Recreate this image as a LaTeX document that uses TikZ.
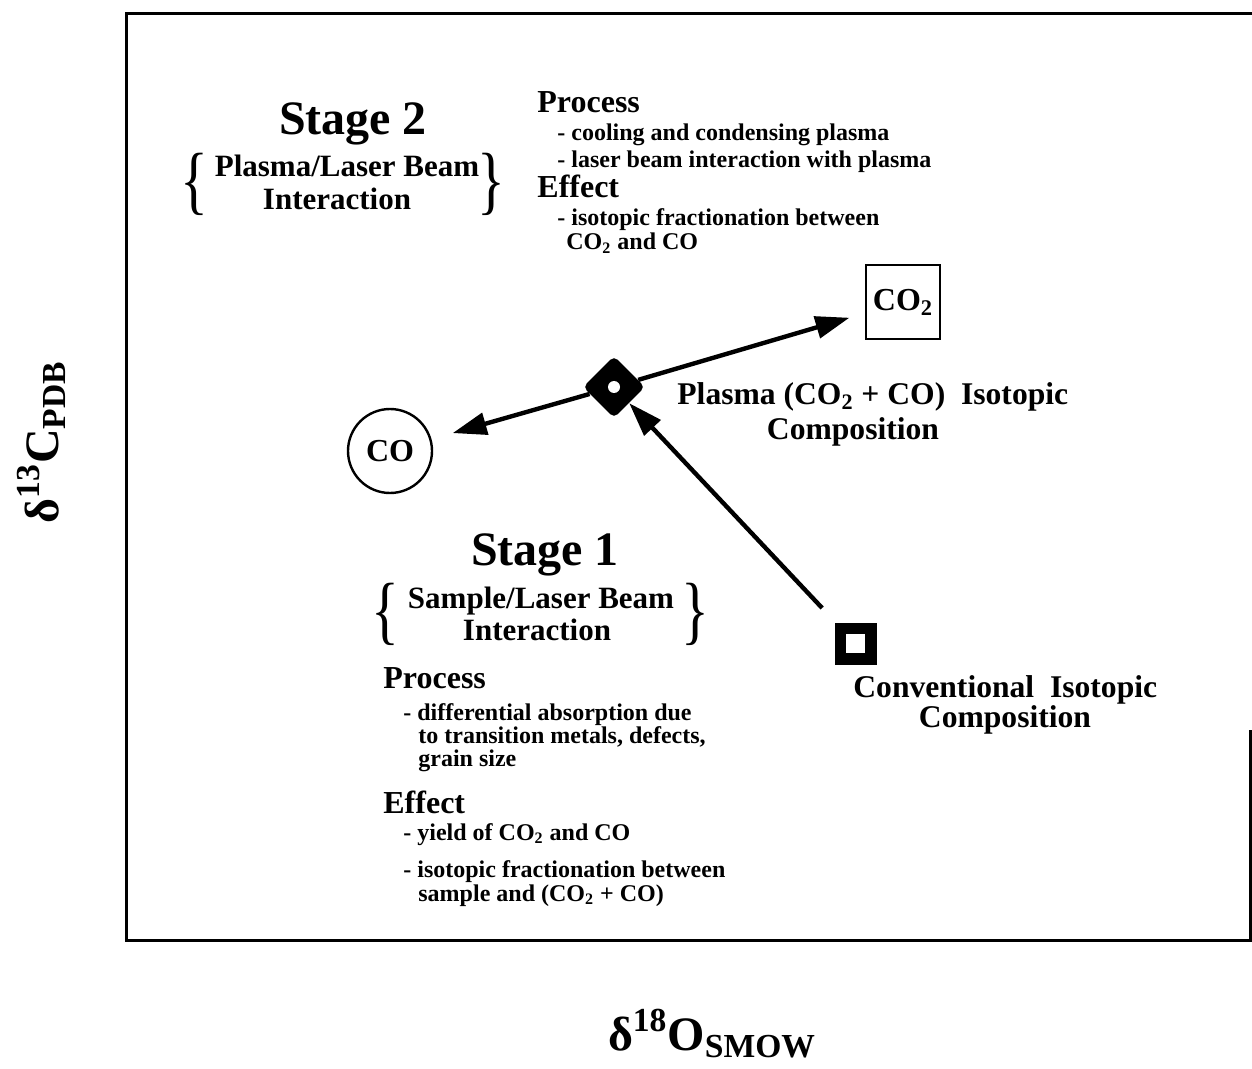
\documentclass[tikz,border=0pt]{standalone}
\usepackage{fontspec}
\setmainfont{Liberation Serif}
\usetikzlibrary{arrows.meta,shapes.geometric}

\tikzset{
	item/.style={anchor=base west,inner sep=0pt,font=\bfseries\fontsize{12}{12}\selectfont},
	head/.style={anchor=base west,inner sep=0pt,font=\bfseries\fontsize{16}{16}\selectfont},
	title/.style={anchor=base,inner sep=0pt,font=\bfseries\fontsize{24}{24}\selectfont},
	sub/.style={anchor=base,inner sep=0pt,font=\bfseries\fontsize{15.5}{15.5}\selectfont},
	brc/.style={inner sep=0pt,font=\fontsize{29}{29}\selectfont},
	lbl/.style={anchor=base,inner sep=0pt,font=\bfseries\fontsize{15.8}{15.8}\selectfont},
	axis/.style={anchor=base,inner sep=0pt,font=\bfseries\fontsize{24}{24}\selectfont},
	arr/.style={-{Triangle[length=17pt,width=11pt]},line width=2.2pt},
}
\newcommand{\tallbrace}[1]{\scalebox{1}[1.3]{#1}}

\begin{document}
\begin{tikzpicture}[x=0.5pt,y=-0.5pt]
	\useasboundingbox (0,0) rectangle (1252,1069);
	\draw[line width=1.5pt] (1250,730) -- (1250,940) -- (126,940) -- (126,14) -- (1252,14);
	%
	%  STAGE 2
	%
	\node[title] (S2) at (353,135) {Stage 2};
	\node[sub] (S2a) at (347,177) {Plasma/Laser Beam};
	\node[sub] (S2b) at (337,210) {Interaction};
	\node[brc] (S2l) at (194,184) {\tallbrace{\{}};
	\node[brc] (S2r) at (491,184) {\tallbrace{\}}};
	\node[head] (P2) at (537,113) {Process};
	\node[item] (P2a) at (557,141) {- cooling and condensing plasma};
	\node[item] (P2b) at (557,168) {- laser beam interaction with plasma};
	\node[head] (E2) at (537,198) {Effect};
	\node[item] (E2a) at (557,226) {- isotopic fractionation between};
	\node[item] (E2b) at (566,250) {CO\textsubscript{2} and CO};
	%
	%  STAGE 1
	%
	\node[title] (S1) at (545,565) {Stage 1};
	\node[sub] (S1a) at (541,608) {Sample/Laser Beam};
	\node[sub] (S1b) at (537,640) {Interaction};
	\node[brc] (S1l) at (385,614) {\tallbrace{\{}};
	\node[brc] (S1r) at (695,614) {\tallbrace{\}}};
	\node[head] (P1) at (383,688) {Process};
	\node[item] (P1a) at (403,720) {- differential absorption due};
	\node[item] (P1b) at (418,743) {to transition metals, defects,};
	\node[item] (P1c) at (418,766) {grain size};
	\node[head] (E1) at (383,813) {Effect};
	\node[item] (E1a) at (403,840) {- yield of CO\textsubscript{2} and CO};
	\node[item] (E1b) at (403,877) {- isotopic fractionation between};
	\node[item] (E1c) at (418,901) {sample and (CO\textsubscript{2} + CO)};
	%
	%  POINTS
	%
	\node[diamond,fill=black,minimum size=31pt,inner sep=0pt,rounded corners=2.5pt] (D) at (614,387) {};
	\node[circle,fill=white,minimum size=6pt,inner sep=0pt] (Dh) at (D) {};
	\node[fill=black,minimum size=21pt,inner sep=0pt] (Q) at (856,644) {};
	\node[fill=white,minimum size=9.5pt,inner sep=0pt] (Qh) at (855.5,643) {};
	\node[draw,line width=1.2pt,minimum width=37pt,minimum height=37pt,inner sep=0pt,
		font=\bfseries\fontsize{16}{16}\selectfont] (B) at (903,302) {CO\textsubscript{2}};
	\node[draw,circle,line width=1.2pt,minimum size=42pt,inner sep=0pt,
		font=\bfseries\fontsize{16}{16}\selectfont] (C) at (390,451) {CO};
	\node[lbl,anchor=base west] (L1) at (677,405) {Plasma (CO\textsubscript{2} + CO)\enspace Isotopic};
	\node[lbl] (L2) at (853,439) {Composition};
	\node[lbl,anchor=base west] (K1) at (853,697) {Conventional\enspace Isotopic};
	\node[lbl] (K2) at (1005,727) {Composition};
	%
	\path[arr]
	(D) edge[shorten >=11pt] (C)
	(D) edge[shorten >=8pt] (B)
	(Q) edge[shorten <=10pt] (D);
	%
	%  AXES
	%
	\node[axis,rotate=90] (Y) at (58,442) {δ\textsuperscript{13}C\textsubscript{PDB}};
	\node[axis] (X) at (712,1050) {δ\textsuperscript{18}O\textsubscript{SMOW}};
\end{tikzpicture}
\end{document}
